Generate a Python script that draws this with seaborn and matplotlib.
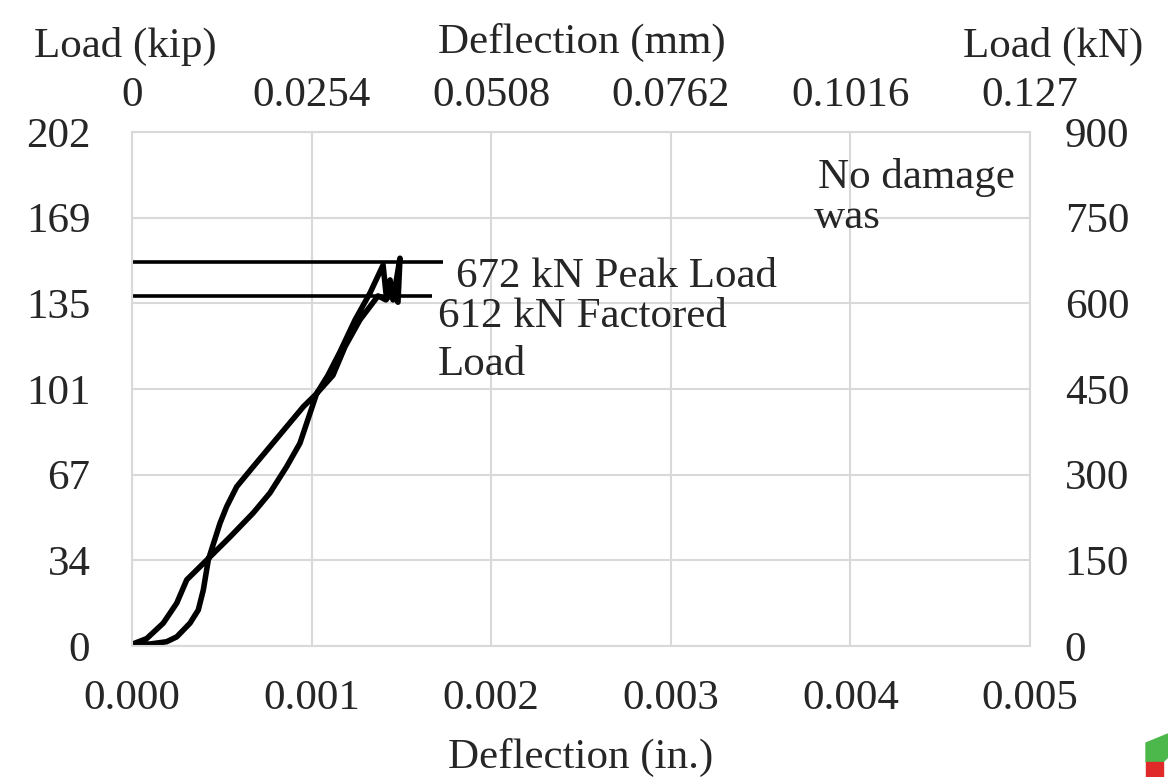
import matplotlib
matplotlib.use("Agg")
import matplotlib.pyplot as plt
import seaborn as sns
import pandas as pd
from matplotlib.patches import Polygon

# deflection (in.) and load (kN), loading + unloading loop
defl_in = [0.0, 0.000100, 0.000193, 0.000249, 0.000323, 0.000369, 0.000397, 0.000425,
           0.000490, 0.000527, 0.000583, 0.000675, 0.000768, 0.000861, 0.000954, 0.001028,
           0.001091, 0.001158, 0.001242, 0.001325, 0.001398, 0.001414, 0.001437, 0.001453,
           0.001470, 0.001492,
           0.001481, 0.001448, 0.001414, 0.001370, 0.001269, 0.001186, 0.001119, 0.001028,
           0.000935, 0.000861, 0.000768, 0.000675, 0.000546, 0.000434, 0.000305, 0.000249,
           0.000174, 0.000082, 0.0]
load_kn = [2, 3.5, 7.5, 16, 40, 63, 98, 151,
           215, 244, 279, 314, 349, 384, 419, 442,
           474, 515, 571, 618, 667, 618, 641, 606,
           637, 679,
           602, 620, 606, 613, 571, 524, 474, 442,
           355, 314, 268, 233, 191, 156, 116, 75,
           40, 13, 3]

peak_load = 672
factored_load = 612
peak_line_end = 0.001732
factored_line_end = 0.00167

x_ticks = [0.000, 0.001, 0.002, 0.003, 0.004, 0.005]
mm_labels = ["0", "0.0254", "0.0508", "0.0762", "0.1016", "0.127"]
kn_ticks = [0, 150, 300, 450, 600, 750, 900]
kip_labels = ["0", "34", "67", "101", "135", "169", "202"]

df = pd.DataFrame({"defl": defl_in, "load": load_kn})

sns.set_style("whitegrid")
plt.rcParams["font.family"] = ["Liberation Serif", "DejaVu Serif"]
fs = 31

W, H = 1168, 777
def fx(px):
    return px / W
def fy(py):
    return 1 - py / H

fig = plt.figure(figsize=(11.68, 7.77), dpi=100)
ax = fig.add_axes([fx(132), fy(646), (1030-132)/W, (646-132)/H])

sns.lineplot(data=df, x="defl", y="load", sort=False, estimator=None,
             color="black", linewidth=4.0, ax=ax)
ax.hlines(peak_load, 0, peak_line_end, color="black", linewidth=2.6)
ax.hlines(factored_load, 0, factored_line_end, color="black", linewidth=2.6)

ax.set_xlim(0, 0.005)
ax.set_ylim(0, 900)
ax.set_xticks(x_ticks)
ax.set_xticklabels([f"{v:.3f}" for v in x_ticks], fontsize=fs)
ax.set_yticks(kn_ticks)
ax.set_yticklabels(kip_labels, fontsize=fs)
ax.set_xlabel("")
ax.set_ylabel("")
ax.grid(color="#d9d9d9", linewidth=1.5)
for s in ax.spines.values():
    s.set_color("#d9d9d9")
    s.set_linewidth(1.5)
ax.tick_params(axis="x", length=0, pad=24)
ax.tick_params(axis="y", length=0, pad=30)

axr = ax.twinx()
axr.set_ylim(0, 900)
axr.set_yticks(kn_ticks)
axr.set_yticklabels([str(v) for v in kn_ticks], fontsize=fs)
axr.grid(False)
axr.tick_params(axis="y", length=0, pad=25)
for s in axr.spines.values():
    s.set_visible(False)

axt = ax.secondary_xaxis("top")
axt.set_xticks(x_ticks)
axt.set_xticklabels(mm_labels, fontsize=fs)
axt.tick_params(length=0, pad=12.5)
for s in axt.spines.values():
    s.set_visible(False)

fig.text(fx(582), fy(53), "Deflection (mm)", fontsize=fs, ha="center", va="baseline")
fig.text(fx(125), fy(57), "Load (kip)", fontsize=fs, ha="center", va="baseline")
fig.text(fx(1053), fy(57), "Load (kN)", fontsize=fs, ha="center", va="baseline")
fig.text(fx(581), fy(768), "Deflection (in.)", fontsize=fs, ha="center", va="baseline")

fig.text(fx(456), fy(287), "672 kN Peak Load", fontsize=fs, va="baseline")
fig.text(fx(438), fy(327), "612 kN Factored", fontsize=fs, va="baseline")
fig.text(fx(438), fy(375), "Load", fontsize=fs, va="baseline")
fig.text(fx(818), fy(188), "No damage", fontsize=fs, va="baseline")
fig.text(fx(814), fy(228), "was", fontsize=fs, va="baseline")

# corner logo fragment
fig.patches.append(Polygon([(fx(1146), fy(743)), (fx(1168), fy(734)), (fx(1168), fy(757)),
                            (fx(1163), fy(762)), (fx(1146), fy(762))],
                           closed=True, transform=fig.transFigure, color="#4cb74a"))
fig.patches.append(Polygon([(fx(1146), fy(762)), (fx(1163), fy(762)), (fx(1163), 0),
                            (fx(1146), 0)],
                           closed=True, transform=fig.transFigure, color="#e02a2a"))

fig.savefig("out.png", dpi=100)
